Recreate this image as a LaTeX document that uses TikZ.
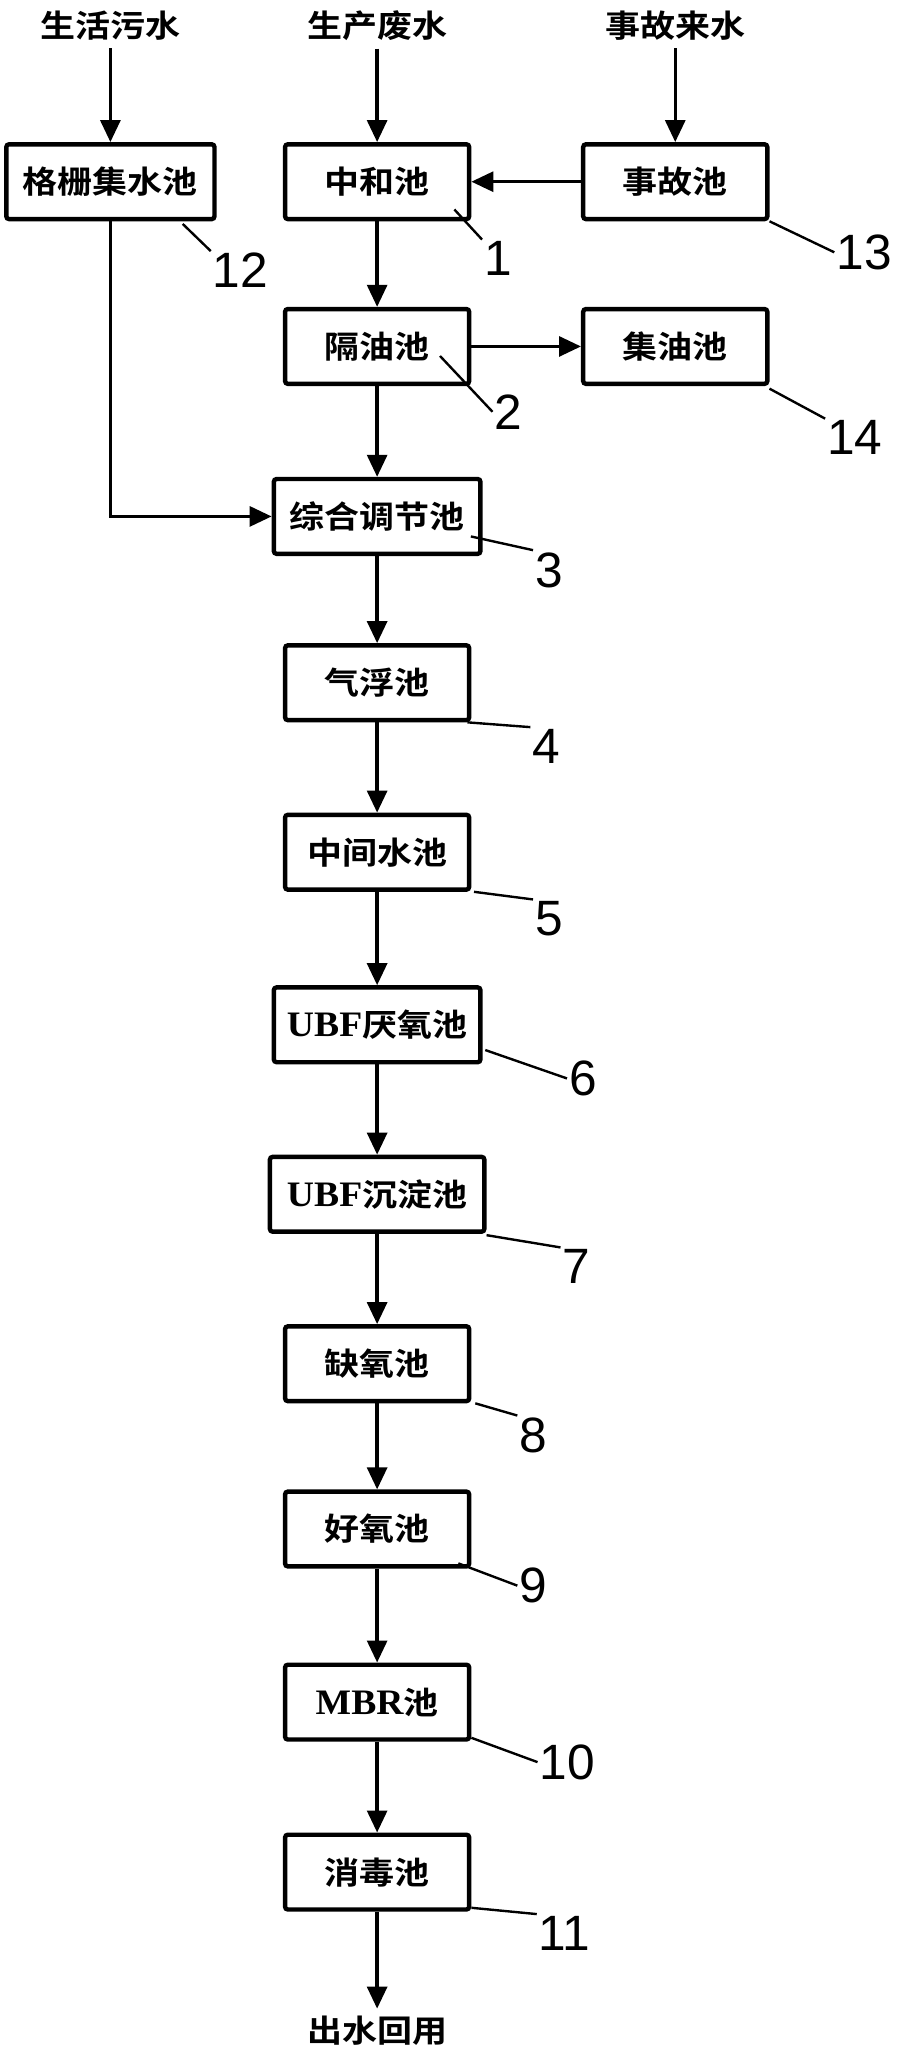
\documentclass[tikz,border=0pt]{standalone}
\usepackage{fontspec}
\usepackage{tikz}
\usetikzlibrary{shapes, arrows, arrows.meta}
\newfontfamily\zhfont{Noto Sans CJK SC Bold}[FakeStretch=1.12]
\newfontfamily\numfont{Liberation Sans}
\newfontfamily\latfont{Liberation Serif Bold}[FakeStretch=1.05]
\newcommand{\tanktext}{\zhfont\fontsize{17pt}{20pt}\selectfont}
\newcommand{\numtext}{\numfont\fontsize{27pt}{30pt}\selectfont}
\newcommand{\lat}[1]{{\latfont\fontsize{19.5pt}{20pt}\selectfont #1}}
\tikzstyle{tank} = [rectangle, draw, line width=2.4pt, rounded corners=1.5pt,
    minimum width=3.52cm, minimum height=1.43cm, inner sep=2pt, font=\tanktext]
\tikzstyle{source} = [inner sep=4pt, font=\tanktext]
\tikzstyle{num} = [inner sep=1pt, font=\numtext]
\tikzstyle{line} = [draw, line width=1.8pt, -{Triangle[length=0.42cm, width=0.38cm]}]
\tikzstyle{leader} = [draw, line width=1.3pt]
\begin{document}
\begin{tikzpicture}[x=0.025cm, y=-0.025cm, node distance=3.24cm, auto]
    \useasboundingbox (0,0) rectangle (690,1569);
    % Nodes
    \node [tank] (neut) at (288.5,139) {中和池};
    \node [tank, right of=neut, node distance=5.7cm] (acc) {事故池};
    \node [tank, left of=neut, node distance=5.1cm, minimum width=3.98cm] (grid) {格栅集水池};
    \node [source, above of=grid, node distance=2.98cm] (dom) {生活污水};
    \node [source, above of=neut, node distance=2.98cm] (prod) {生产废水};
    \node [source, above of=acc, node distance=2.98cm] (accin) {事故来水};
    \node [tank, below of=neut, node distance=3.15cm] (sep) {隔油池};
    \node [tank, right of=sep, node distance=5.7cm] (oil) {集油池};
    \node [tank, below of=sep, node distance=3.25cm, minimum width=3.95cm] (mix) {综合调节池};
    \node [tank, below of=mix, node distance=3.18cm] (flot) {气浮池};
    \node [tank, below of=flot] (mid) {中间水池};
    \node [tank, below of=mid, node distance=3.3cm, minimum width=3.95cm] (ana) {\lat{UBF}厌氧池};
    \node [tank, below of=ana, minimum width=4.1cm] (sett) {\lat{UBF}沉淀池};
    \node [tank, below of=sett] (anox) {缺氧池};
    \node [tank, below of=anox, node distance=3.16cm] (aer) {好氧池};
    \node [tank, below of=aer, node distance=3.31cm] (mbr) {\lat{MBR}池};
    \node [tank, below of=mbr, node distance=3.25cm] (dis) {消毒池};
    \node [source, below of=dis, node distance=3.04cm] (reuse) {出水回用};
    % Numbers
    \node [num] (n1) at (381,198) {1};
    \node [num] (n2) at (389,315) {2};
    \node [num] (n3) at (420,436) {3};
    \node [num] (n4) at (418,571) {4};
    \node [num] (n5) at (420,703) {5};
    \node [num] (n6) at (446,825) {6};
    \node [num] (n7) at (441,969) {7};
    \node [num] (n8) at (408,1098) {8};
    \node [num] (n9) at (408,1213) {9};
    \node [num] (n10) at (434,1348) {10};
    \node [num] (n11) at (432,1479) {11};
    \node [num] (n12) at (184,207) {12};
    \node [num] (n13) at (661,193) {13};
    \node [num] (n14) at (654,335) {14};
    % Leaders
    \path [leader] ([shift={(-13,-9)}]neut.south east) -- (n1.north west);
    \path [leader] ([shift={(-24,-23)}]sep.south east) -- (n2.west);
    \path [leader] ([shift={(-9,-15)}]mix.south east) -- (n3.north west);
    \path [leader] ([shift={(-3,0)}]flot.south east) -- (n4.north west);
    \path [leader] ([shift={(2,0)}]mid.south east) -- (n5.north west);
    \path [leader] ([shift={(2,-11)}]ana.south east) -- (n6.west);
    \path [leader] ([shift={(0,1)}]sett.south east) -- (n7.north west);
    \path [leader] ([shift={(3,0)}]anox.south east) -- (n8.north west);
    \path [leader] ([shift={(-10,-4)}]aer.south east) -- (n9.west);
    \path [leader] ([shift={(0,-3)}]mbr.south east) -- (n10.west);
    \path [leader] ([shift={(0,-3)}]dis.south east) -- (n11.north west);
    \path [leader] ([shift={(-26,2)}]grid.south east) -- (n12.north west);
    \path [leader] (acc.south east) -- (n13.west);
    \path [leader] ([shift={(0,2)}]oil.south east) -- (n14.north west);
    % Edges
    \path [line] (dom) -- (grid);
    \path [line] (prod) -- (neut);
    \path [line] (accin) -- (acc);
    \path [line] (acc) -- (neut);
    \path [line] (neut) -- (sep);
    \path [line] (sep) -- (oil);
    \path [line] (sep) -- (mix);
    \path [line] (grid) |- (mix);
    \path [line] (mix) -- (flot);
    \path [line] (flot) -- (mid);
    \path [line] (mid) -- (ana);
    \path [line] (ana) -- (sett);
    \path [line] (sett) -- (anox);
    \path [line] (anox) -- (aer);
    \path [line] (aer) -- (mbr);
    \path [line] (mbr) -- (dis);
    \path [line] (dis) -- (reuse);
\end{tikzpicture}
\end{document}
